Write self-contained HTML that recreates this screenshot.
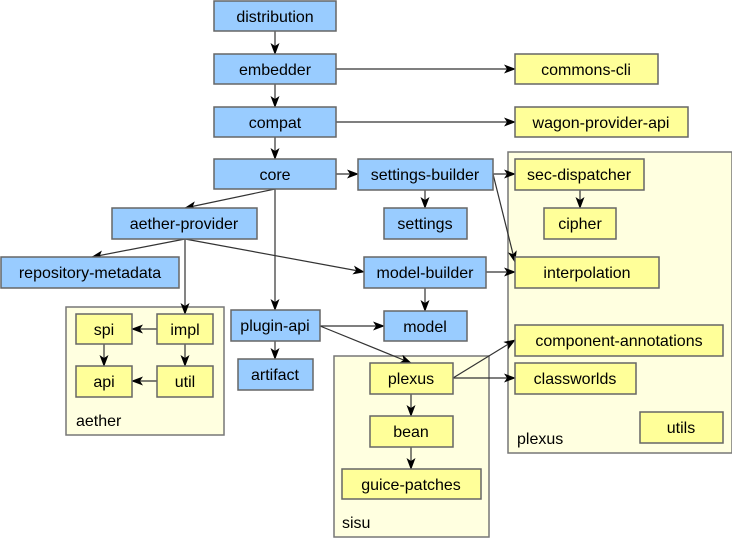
<!DOCTYPE html>
<html><head><meta charset="utf-8"><style>
html,body{margin:0;padding:0;background:#fff}
svg{display:block}
text{font-family:"Liberation Sans",Arial,sans-serif;font-size:16px;fill:#000}
.b{fill:#99ccff;stroke:#666;stroke-width:1.5}
.y{fill:#ffff99;stroke:#666;stroke-width:1.5}
.c{fill:#ffffe0;stroke:#777;stroke-width:1.5}
line{stroke:#333;stroke-width:1.2}
</style></head><body>
<svg width="732" height="538" viewBox="0 0 732 538" xmlns="http://www.w3.org/2000/svg">
<defs><marker id="a" markerWidth="12" markerHeight="9" refX="11" refY="4.5" orient="auto" markerUnits="userSpaceOnUse"><path d="M0,0 L12,4.5 L0,9 L3,4.5 z" fill="#000"/></marker></defs>
<rect class="c" x="66" y="307" width="158" height="128"/>
<rect class="c" x="334" y="356" width="155" height="181"/>
<rect class="c" x="508" y="152" width="224" height="301"/>
<text x="76" y="426">aether</text>
<text x="342" y="528">sisu</text>
<text x="517" y="444">plexus</text>
<g marker-end="url(#a)">
<line x1="275" y1="31" x2="275" y2="54"/>
<line x1="275" y1="84" x2="275" y2="107"/>
<line x1="275" y1="137" x2="275" y2="159"/>
<line x1="336" y1="69" x2="515" y2="69"/>
<line x1="336" y1="122" x2="515" y2="122"/>
<line x1="336" y1="174" x2="358" y2="174"/>
<line x1="275" y1="189" x2="185" y2="208"/>
<line x1="275" y1="189" x2="275" y2="310"/>
<line x1="185" y1="239" x2="92" y2="257"/>
<line x1="185" y1="239" x2="185" y2="314"/>
<line x1="185" y1="239" x2="364" y2="272"/>
<line x1="425" y1="190" x2="425" y2="208"/>
<line x1="493" y1="174" x2="515" y2="174"/>
<line x1="493" y1="174" x2="515" y2="262"/>
<line x1="486" y1="272" x2="515" y2="272"/>
<line x1="425" y1="288" x2="425" y2="311"/>
<line x1="320" y1="326" x2="384" y2="326"/>
<line x1="320" y1="326" x2="411" y2="363"/>
<line x1="453" y1="378" x2="515" y2="340"/>
<line x1="453" y1="378" x2="515" y2="378"/>
<line x1="411" y1="394" x2="411" y2="416"/>
<line x1="411" y1="447" x2="411" y2="469"/>
<line x1="580" y1="190" x2="580" y2="208"/>
<line x1="275" y1="341" x2="275" y2="359"/>
<line x1="157" y1="329" x2="132" y2="329"/>
<line x1="185" y1="344" x2="185" y2="366"/>
<line x1="104" y1="344" x2="104" y2="366"/>
<line x1="157" y1="381" x2="132" y2="381"/>
</g>
<g text-anchor="middle">
<rect class="b" x="214" y="1" width="122" height="30"/><text x="275" y="22">distribution</text>
<rect class="b" x="214" y="54" width="122" height="30"/><text x="275" y="75">embedder</text>
<rect class="b" x="214" y="107" width="122" height="30"/><text x="275" y="128">compat</text>
<rect class="b" x="214" y="159" width="122" height="30"/><text x="275" y="180">core</text>
<rect class="b" x="358" y="159" width="135" height="31"/><text x="425" y="180">settings-builder</text>
<rect class="b" x="384" y="208" width="83" height="31"/><text x="425" y="229">settings</text>
<rect class="b" x="364" y="257" width="122" height="31"/><text x="425" y="278">model-builder</text>
<rect class="b" x="384" y="311" width="83" height="30"/><text x="425" y="332">model</text>
<rect class="b" x="112" y="208" width="145" height="31"/><text x="184" y="229">aether-provider</text>
<rect class="b" x="1" y="257" width="178" height="31"/><text x="90" y="278">repository-metadata</text>
<rect class="b" x="231" y="310" width="89" height="31"/><text x="275" y="331">plugin-api</text>
<rect class="b" x="238" y="359" width="75" height="31"/><text x="275" y="380">artifact</text>
<rect class="y" x="76" y="314" width="56" height="30"/><text x="104" y="335">spi</text>
<rect class="y" x="157" y="314" width="56" height="30"/><text x="185" y="335">impl</text>
<rect class="y" x="76" y="366" width="56" height="31"/><text x="104" y="387">api</text>
<rect class="y" x="157" y="366" width="56" height="31"/><text x="185" y="387">util</text>
<rect class="y" x="515" y="54" width="143" height="30"/><text x="586" y="75">commons-cli</text>
<rect class="y" x="515" y="107" width="173" height="30"/><text x="601" y="128">wagon-provider-api</text>
<rect class="y" x="515" y="159" width="129" height="31"/><text x="579" y="180">sec-dispatcher</text>
<rect class="y" x="544" y="208" width="72" height="31"/><text x="580" y="229">cipher</text>
<rect class="y" x="515" y="257" width="144" height="31"/><text x="587" y="278">interpolation</text>
<rect class="y" x="515" y="325" width="208" height="31"/><text x="619" y="346">component-annotations</text>
<rect class="y" x="515" y="363" width="121" height="31"/><text x="575" y="384">classworlds</text>
<rect class="y" x="640" y="412" width="83" height="31"/><text x="681" y="433">utils</text>
<rect class="y" x="370" y="363" width="83" height="31"/><text x="411" y="384">plexus</text>
<rect class="y" x="370" y="416" width="83" height="31"/><text x="411" y="437">bean</text>
<rect class="y" x="342" y="469" width="139" height="30"/><text x="411" y="490">guice-patches</text>
</g>
</svg>
</body></html>
